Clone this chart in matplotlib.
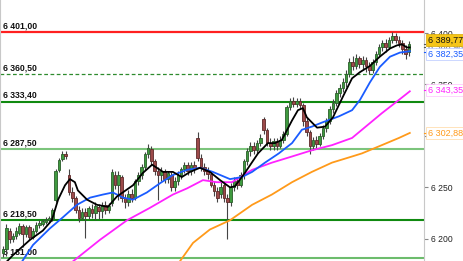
import matplotlib
matplotlib.use("Agg")
import matplotlib.pyplot as plt
import numpy as np

plt.rcParams['font.family'] = ['Liberation Sans', 'DejaVu Sans']

# candles (intraday, oldest first)
opens = [6186, 6190, 6208, 6200, 6203, 6206, 6212, 6205, 6211, 6202,
         6208, 6213, 6214, 6216, 6218, 6219, 6238, 6267, 6278, 6282,
         6262, 6245, 6240, 6228, 6220, 6226, 6222, 6229, 6225, 6231,
         6227, 6233, 6228, 6235, 6262, 6252, 6260, 6240, 6236, 6244,
         6240, 6256, 6262, 6270, 6282, 6287, 6276, 6266, 6262, 6266,
         6258, 6262, 6250, 6256, 6262, 6268, 6272, 6266, 6272, 6298,
         6279, 6270, 6266, 6263, 6252, 6246, 6244, 6252, 6240, 6236,
         6250, 6256, 6252, 6262, 6276, 6285, 6290, 6286, 6293, 6316,
         6306, 6293, 6290, 6295, 6290, 6296, 6302, 6328, 6334, 6331,
         6334, 6330, 6314, 6304, 6290, 6296, 6292, 6300, 6308, 6314,
         6326, 6332, 6342, 6347, 6352, 6360, 6372, 6368, 6376, 6370,
         6374, 6368, 6364, 6372, 6380, 6386, 6390, 6386, 6393, 6397,
         6393, 6390, 6384, 6382]
closes = [6190, 6210, 6200, 6203, 6208, 6212, 6205, 6211, 6202, 6208,
          6213, 6215, 6217, 6218, 6220, 6228, 6266, 6277, 6282, 6280,
          6245, 6240, 6228, 6220, 6226, 6222, 6230, 6225, 6232, 6227,
          6233, 6228, 6232, 6265, 6252, 6262, 6240, 6236, 6244, 6240,
          6256, 6262, 6270, 6282, 6288, 6276, 6266, 6262, 6266, 6258,
          6264, 6250, 6256, 6262, 6268, 6272, 6266, 6272, 6268, 6279,
          6270, 6266, 6263, 6252, 6246, 6240, 6250, 6240, 6236, 6250,
          6256, 6252, 6262, 6276, 6285, 6290, 6286, 6293, 6298, 6306,
          6293, 6290, 6295, 6290, 6296, 6302, 6328, 6334, 6331, 6334,
          6330, 6314, 6304, 6290, 6296, 6292, 6300, 6308, 6314, 6326,
          6332, 6342, 6347, 6352, 6360, 6372, 6368, 6376, 6370, 6374,
          6368, 6364, 6372, 6380, 6386, 6390, 6386, 6393, 6397, 6393,
          6390, 6384, 6380, 6389.77]
highs = [6193, 6214, 6210, 6206, 6211, 6215, 6214, 6213, 6213, 6210,
         6216, 6218, 6219, 6221, 6222, 6230, 6268, 6279, 6285, 6285,
         6268, 6250, 6242, 6232, 6230, 6230, 6232, 6234, 6236, 6234,
         6236, 6237, 6235, 6268, 6266, 6266, 6262, 6244, 6247, 6248,
         6258, 6265, 6273, 6284, 6292, 6290, 6278, 6270, 6270, 6268,
         6266, 6265, 6260, 6266, 6270, 6275, 6275, 6275, 6276, 6304,
         6282, 6274, 6270, 6266, 6256, 6250, 6256, 6256, 6244, 6254,
         6260, 6260, 6265, 6278, 6288, 6294, 6294, 6296, 6302, 6318,
         6308, 6298, 6298, 6298, 6300, 6305, 6330, 6337, 6338, 6337,
         6337, 6332, 6318, 6306, 6299, 6300, 6303, 6311, 6317, 6329,
         6336, 6345, 6350, 6356, 6364, 6376, 6378, 6380, 6378, 6378,
         6377, 6372, 6375, 6383, 6389, 6393, 6394, 6396, 6401, 6400,
         6397, 6393, 6388, 6392]
lows = [6182, 6183, 6196, 6197, 6200, 6204, 6192, 6202, 6199, 6200,
        6206, 6210, 6212, 6214, 6215, 6217, 6236, 6265, 6276, 6278,
        6243, 6236, 6225, 6216, 6218, 6201, 6219, 6220, 6218, 6219,
        6220, 6224, 6225, 6232, 6248, 6238, 6236, 6230, 6232, 6236,
        6238, 6252, 6258, 6267, 6279, 6272, 6262, 6238, 6256, 6254,
        6254, 6246, 6246, 6252, 6258, 6264, 6262, 6262, 6264, 6276,
        6266, 6262, 6258, 6250, 6242, 6236, 6240, 6236, 6200, 6232,
        6246, 6248, 6250, 6258, 6272, 6280, 6282, 6283, 6290, 6302,
        6290, 6286, 6286, 6286, 6288, 6293, 6300, 6325, 6328, 6328,
        6326, 6310, 6300, 6282, 6286, 6288, 6290, 6297, 6304, 6312,
        6322, 6329, 6338, 6343, 6348, 6357, 6364, 6365, 6366, 6364,
        6362, 6360, 6361, 6369, 6377, 6383, 6382, 6384, 6390, 6390,
        6386, 6380, 6375, 6378]

# moving averages (candle index, price)
ma_black_x = [0.6, 3.0, 8.2, 12.1, 14.8, 16.7, 18.8, 20.3, 21.8, 22.7, 25.5, 28.5,
              31.8, 34.5, 39.4, 42.4, 45.2, 48.5, 51.5, 54.2, 56.7, 59.7, 62.7,
              65.8, 68.8, 70.3, 73.3, 77.3, 80.3, 82.4, 84.5, 87.6, 89.4, 90.9,
              92.1, 95.2, 97.6, 100.0, 103.0, 105.8, 108.2, 111.2, 114.2, 117.3,
              119.4, 120.9, 122.4, 123.3]
ma_black_y = [6176, 6184, 6199, 6208, 6218, 6238, 6252, 6258, 6255, 6247, 6238, 6233,
              6231, 6241, 6252, 6264, 6272, 6265, 6265, 6260, 6265, 6269, 6265,
              6257, 6250, 6251, 6264, 6283, 6293, 6293, 6296, 6315, 6325, 6327,
              6318, 6308, 6309, 6318, 6338, 6356, 6362, 6368, 6377, 6385,
              6388, 6389, 6386, 6386]
ma_blue_x = [5.8, 9.1, 14.2, 18.2, 22.4, 26.4, 30.3, 33.3, 36.4, 39.4, 43.6, 47.6,
             51.5, 55.8, 59.7, 63.6, 68.8, 72.4, 75.5, 79.4, 83.6, 87.6, 90.6,
             93.6, 96.7, 101.8, 105.8, 108.2, 111.2, 114.2, 117.3, 120.3, 123.3]
ma_blue_y = [6178, 6194, 6210, 6221, 6233, 6240, 6243, 6245, 6240, 6238, 6245, 6254,
             6262, 6267, 6269, 6265, 6258, 6260, 6265, 6274, 6283, 6293, 6306,
             6309, 6313, 6319, 6325, 6335, 6352, 6367, 6377, 6381, 6382.35]
ma_magenta_x = [21.2, 29.4, 37.6, 44.5, 51.5, 55.8, 60.6, 64.8, 69.4, 75.5, 81.5,
                87.6, 93.6, 99.7, 105.8, 108.8, 114.8, 120.0, 123.3]
ma_magenta_y = [6178, 6199, 6218, 6230, 6243, 6249, 6257, 6255, 6255, 6267, 6274,
                6280, 6286, 6291, 6298, 6306, 6322, 6335, 6343.35]
ma_orange_x = [53.6, 57.6, 62.7, 68.8, 75.5, 81.5, 87.6, 93.6, 99.7, 105.8, 108.8,
               114.8, 120.0, 123.3]
ma_orange_y = [6178, 6196, 6209, 6218, 6233, 6243, 6255, 6265, 6274, 6280, 6283,
               6291, 6298, 6302.88]

# horizontal levels
levels = [6401.00, 6360.50, 6333.40, 6287.50, 6218.50, 6181.00]
level_labels = ['6 401,00', '6 360,50', '6 333,40', '6 287,50', '6 218,50', '6 181,00']
level_colors = ['#ff2020', '#2e8b2e', '#108a10', '#7cc47c', '#108a10', '#6cbc6c']
level_styles = ['-', '--', '-', '-', '-', '-']
level_widths = [1.6, 0.9, 1.5, 1.5, 1.5, 1.5]

yticks = [6200, 6250, 6300, 6350, 6400]
ytick_labels = ['6 200', '6 250', '6 300', '6 350', '6 400']

fig = plt.figure(figsize=(4.64, 2.61), dpi=100)
ax = fig.add_axes([0, 0, 424 / 464, 1])
ax.set_xlim(-0.9, 127.6)
ax.set_ylim(6178.4, 6432.1)

for lv, lab, col, ls, lw in zip(levels, level_labels, level_colors, level_styles, level_widths):
    if ls == '--':
        ax.axhline(lv, color=col, lw=lw, ls=(0, (3, 2)), zorder=1)
    else:
        ax.axhline(lv, color=col, lw=lw, zorder=1)
    ax.text(0.006, lv + 1.5, lab, transform=ax.get_yaxis_transform(),
            fontsize=6.2, fontweight='bold', color='#111111', va='bottom', ha='left', zorder=1)

# candles
idx = np.arange(len(closes))
o = np.array(opens)
c = np.array(closes)
up = c >= o
ax.vlines(idx, lows, highs, color='#444444', lw=0.8, zorder=2)
bottoms = np.minimum(o, c)
heights = np.maximum(np.abs(c - o), 0.8)
ax.bar(idx[up], heights[up], bottom=bottoms[up], width=0.8,
       color='#3f9a3f', edgecolor='#2b5f2b', lw=0.6, zorder=3)
ax.bar(idx[~up], heights[~up], bottom=bottoms[~up], width=0.8,
       color='#9c4a4a', edgecolor='#5e2a2a', lw=0.6, zorder=3)

ax.plot(ma_orange_x, ma_orange_y, color='#ff9a1a', lw=1.3, zorder=4)
ax.plot(ma_magenta_x, ma_magenta_y, color='#ff22ff', lw=1.3, zorder=4)
ax.plot(ma_blue_x, ma_blue_y, color='#1a5cff', lw=1.3, zorder=4)
ax.plot(ma_black_x, ma_black_y, color='#000000', lw=1.3, zorder=5)

# axes styling
ax.set_xticks([])
ax.yaxis.tick_right()
ax.set_yticks(yticks)
ax.set_yticklabels(ytick_labels)
ax.tick_params(axis='y', length=3, width=0.8, color='#888888', labelsize=6.2,
               labelcolor='#222222', pad=2)
for s in ['top', 'bottom']:
    ax.spines[s].set_visible(False)
ax.spines['left'].set_color('#c8c8c8')
ax.spines['right'].set_color('#c8c8c8')

# value tags on the right
tx = 428 / 464
def tag(yv, text, tcol, fcol, ecol, z):
    fy = 1 - yv / 261
    fig.text(tx, fy, text, fontsize=6.5, color=tcol, va='center', ha='left', zorder=z,
             bbox=dict(boxstyle='square,pad=0.2', fc=fcol, ec=ecol, lw=0.5))

tag(47, '6 388,98', '#777777', 'white', 'none', 10)
tag(40, '6 389,77', '#111111', '#f5c518', '#d9a800', 11)
tag(54, '6 382,35', '#1a5cff', 'white', '#b8c8ff', 12)
tag(90, '6 343,35', '#ff22ff', 'white', '#ffc0ff', 12)
tag(133, '6 302,88', '#ff9a1a', 'white', '#ffd8a0', 12)

for yv, col in [(44, '#555555'), (47, '#555555'), (52, '#1a5cff'), (90, '#ff22ff'), (133, '#ff9a1a')]:
    fy = 1 - yv / 261
    fig.add_artist(plt.Line2D([424.5 / 464, 427.5 / 464], [fy, fy], color=col, lw=0.8))

fig.savefig('out.png', dpi=100)
